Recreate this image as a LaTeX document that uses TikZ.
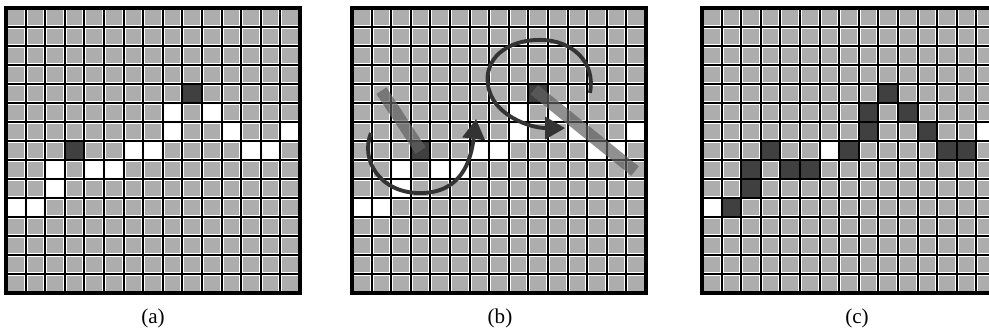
\documentclass[tikz,border=0pt]{standalone}
\usepackage{fontspec}
\setmainfont{Liberation Serif}
\usetikzlibrary{arrows.meta}

% cells are given as row/column, rows counted from the top
\newcommand\holesAB{5/8,5/10,6/8,6/11,6/14,7/6,7/7,7/12,7/13,8/2,8/4,8/5,9/2,10/0,10/1}
\newcommand\hitsAB{4/9,7/3}
\newcommand\holesC{6/14,7/6,10/0}
\newcommand\hitsC{4/9,5/8,5/10,6/8,6/11,7/3,7/7,7/12,7/13,8/2,8/4,8/5,9/2,10/1}

\newcommand\lattice[3]{%
  \begin{scope}[shift={(#1,0.8cm)}]
    \foreach \c in {0,...,14}
      \foreach \r in {0,...,14}
        \fill[cell] (\c+.1,14-\r+.1) rectangle (\c+.9,14-\r+.9);
    \foreach \r/\c in #2
      \fill[hole] (\c,14-\r) rectangle (\c+1,15-\r);
    \foreach \r/\c in #3
      \fill[hit] (\c,14-\r) rectangle (\c+1,15-\r);
    \draw[gridline] (0,0) grid[step={(1,1)}] (15,15);
    \draw[frame] (0,0) rectangle (15,15);
  \end{scope}}

\begin{document}
\begin{tikzpicture}[x=0.392cm,y=0.38cm,>={Triangle[length=0.4cm,width=0.44cm]}]
\tikzstyle{cell}=[fill=black!32]
\tikzstyle{hole}=[fill=white]
\tikzstyle{hit}=[fill=black!75]
\tikzstyle{gridline}=[draw=black,line width=1.1pt]
\tikzstyle{frame}=[draw=black,line width=1.8pt]
\tikzstyle{probe}=[draw=black!62,line width=0.24cm,opacity=0.7]
\tikzstyle{spin}=[draw=black!80,line width=2.2pt,->]
\tikzstyle{caption}=[font=\large]

\useasboundingbox (0,0) rectangle (19.78cm,6.66cm);

\lattice{0.12cm}{\holesAB}{\hitsAB}
\lattice{7.04cm}{\holesAB}{\hitsAB}
\lattice{14.04cm}{\holesC}{\hitsC}

% middle lattice: the two rods and the turns about their pivots
\begin{scope}[shift={(7.04cm,0.8cm)}]
  \coordinate (rodAtop) at (1.5,10.65);
  \coordinate (rodAend) at (3.5,7.5);
  \coordinate (rodBtop) at (9.3,10.7);
  \coordinate (rodBend) at (14.44,6.42);
  \draw[probe] (rodAtop) -- (rodAend);
  \draw[probe] (rodBtop) -- (rodBend);

  \coordinate (curlAfrom) at (0.97,8.42);
  \coordinate (curlAlow) at (3.47,5.26);
  \coordinate (curlAto) at (6.33,9.16);
  \draw[spin] (curlAfrom) .. controls (0.41,7.0) and (1.43,5.26) .. (curlAlow)
    .. controls (5.61,5.26) and (6.07,7.0) .. (curlAto);

  \coordinate (curlBfrom) at (12.14,10.53);
  \coordinate (curlBtop) at (9.59,13.32);
  \coordinate (curlBleft) at (6.94,10.95);
  \coordinate (curlBto) at (10.87,8.68);
  \draw[spin] (curlBfrom) .. controls (12.45,12.16) and (11.22,13.32) .. (curlBtop)
    .. controls (7.81,13.32) and (6.73,12.26) .. (curlBleft)
    .. controls (7.14,9.37) and (9.08,8.68) .. (curlBto);
\end{scope}

\node[caption] (capA) at (3.06cm,0.3cm) {(a)};
\node[caption] (capB) at (10.0cm,0.3cm) {(b)};
\node[caption] (capC) at (17.14cm,0.3cm) {(c)};
\end{tikzpicture}
\end{document}
